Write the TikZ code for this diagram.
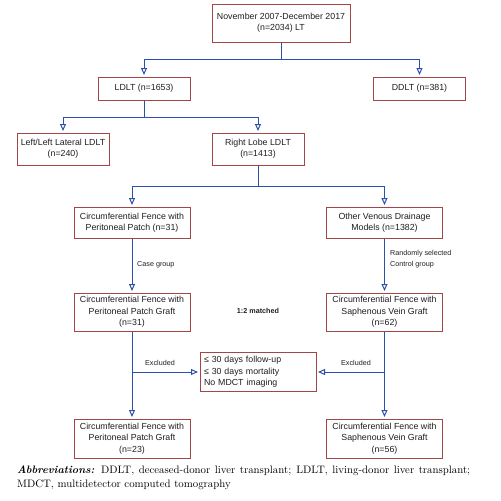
\documentclass[tikz,border=0pt]{standalone}
\usepackage{fontspec}
\usepackage{tikz}
\usetikzlibrary{arrows.meta, positioning, calc}
\newfontfamily\chartfont{Liberation Sans}
\definecolor{BoxRule}{RGB}{165,70,70}
\definecolor{LinkBlue}{RGB}{45,80,170}
\definecolor{TextGray}{RGB}{30,30,30}

\begin{document}
\begin{tikzpicture}[
  x=1pt, y=-1pt,
  every node/.style={font=\chartfont\fontsize{8.8}{11.3}\selectfont, text=TextGray},
  box/.style={draw=BoxRule, line width=1pt, align=center, inner sep=2pt},
  narrow/.style={minimum width=92pt},
  wide/.style={minimum width=116pt},
  tag/.style={font=\chartfont\fontsize{7.2}{11.5}\selectfont, align=left, inner sep=1pt},
  arrow/.style={-{Triangle[open, length=7pt, width=6pt]}, draw=LinkBlue, line width=1pt, shorten >=1.5pt}
]
\useasboundingbox (0,0) rectangle (501,501);
% boxes
\node[box, minimum width=138pt, minimum height=38pt] (a) at (281,23) {November 2007-December 2017\\(n=2034) LT};
\node[box, narrow, minimum height=23pt] (b) at (144,88.5) {LDLT (n=1653)};
\node[box, narrow, minimum height=23pt] (c) at (419.5,88.5) {DDLT (n=381)};
\node[box, narrow, minimum height=32pt] (d) at (63,149) {Left/Left Lateral LDLT\\(n=240)};
\node[box, narrow, minimum height=32pt] (e) at (258,149) {Right Lobe LDLT\\(n=1413)};
\node[box, wide, minimum height=31pt] (f) at (132,222.5) {Circumferential Fence with\\Peritoneal Patch (n=31)};
\node[box, wide, minimum height=31pt] (g) at (384.5,222.5) {Other Venous Drainage\\Models (n=1382)};
\node[box, wide, minimum height=38pt] (h) at (132,312) {Circumferential Fence with\\Peritoneal Patch Graft\\(n=31)};
\node[box, wide, minimum height=38pt] (i) at (384.5,312) {Circumferential Fence with\\Saphenous Vein Graft\\(n=62)};
\node[box, text width=108pt, align=left, inner sep=4pt, minimum height=38pt] (j) at (258,372) {≤ 30 days follow-up\\≤ 30 days mortality\\No MDCT imaging};
\node[box, wide, minimum height=39pt] (k) at (132,438.5) {Circumferential Fence with\\Peritoneal Patch Graft\\(n=23)};
\node[box, wide, minimum height=39pt] (l) at (384.5,438.5) {Circumferential Fence with\\Saphenous Vein Graft\\(n=56)};
% labels
\node[tag, anchor=west] (cg) at (136,265) {Case group};
\node[tag, anchor=west] (rs) at (389,259) {Randomly selected\\Control group};
\node[tag] (m) at (258,311) {\textbf{1:2 matched}};
\node[tag] (xl) at (160,363) {Excluded};
\node[tag] (xr) at (356,363) {Excluded};
% connectors
\draw[arrow] (a.south) -- ++(0,17) -| (b.north);
\draw[arrow] (a.south) -- ++(0,17) -| (c.north);
\draw[arrow] (b.south) -- ++(0,16.5) -| (d.north);
\draw[arrow] (b.south) -- ++(0,16.5) -| (e.north);
\draw[arrow] (e.south) -- ++(0,21) -| (f.north);
\draw[arrow] (e.south) -- ++(0,21) -| (g.north);
\draw[arrow] (f) -- (h);
\draw[arrow] (g) -- (i);
\draw[arrow] (h) -- (k);
\draw[arrow] (i) -- (l);
\draw[arrow] (h.south |- j.west) -- (j.west);
\draw[arrow] (i.south |- j.east) -- (j.east);
% caption
\node[anchor=north west, text width=453pt, align=justify, inner sep=0pt, text=black,
      font=\rmfamily\fontsize{10.8}{13.5}\selectfont] (cap) at (17,466)
  {\textbf{\textit{Abbreviations:}} DDLT, deceased-donor liver transplant; LDLT, living-donor liver transplant;\linebreak MDCT, multidetector computed tomography};
\end{tikzpicture}
\end{document}
